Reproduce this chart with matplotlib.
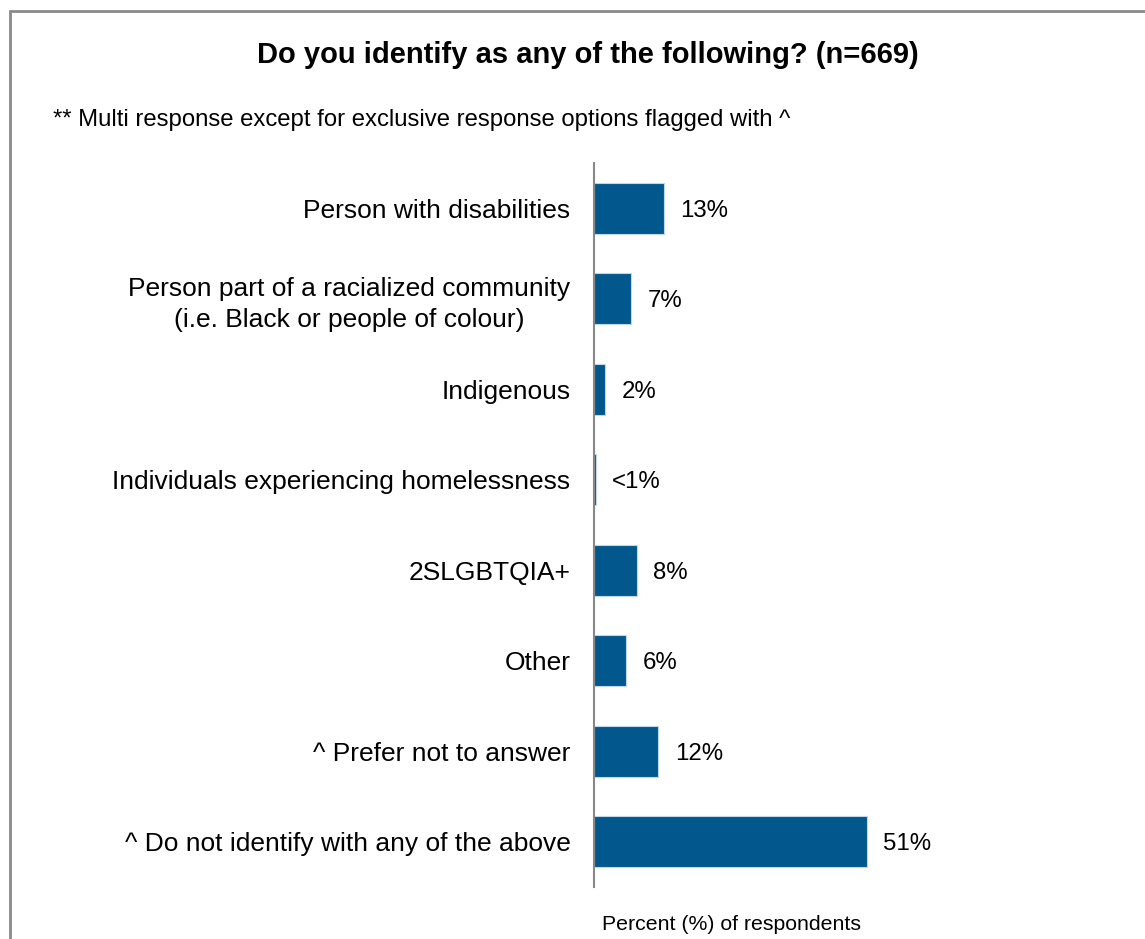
import matplotlib.pyplot as plt
from matplotlib.patches import Rectangle

categories = [
    "Person with disabilities",
    "Person part of a racialized community\n(i.e. Black or people of colour)",
    "Indigenous",
    "Individuals experiencing homelessness",
    "2SLGBTQIA+",
    "Other",
    "^ Prefer not to answer",
    "^ Do not identify with any of the above",
]
values = [13, 7, 2, 0.3, 8, 6, 12, 51]
value_labels = ["13%", "7%", "2%", "<1%", "8%", "6%", "12%", "51%"]

plt.rcParams['font.family'] = ['Liberation Sans', 'DejaVu Sans']

fig = plt.figure(figsize=(11.45, 9.39), dpi=100)
ax = fig.add_axes([594 / 1145, 1 - 887 / 939, 276 / 1145, 724 / 939])

pos = list(range(len(categories)))
ax.barh(pos, values, height=0.56, color='#02578C', edgecolor='#BFD7EA', linewidth=0.8)
ax.set_ylim(len(categories) - 0.5, -0.5)
ax.set_xlim(0, 51.6)

for p, v, lab in zip(pos, values, value_labels):
    ax.annotate(lab, (v, p), xytext=(12, 0), textcoords='offset points',
                va='center_baseline', ha='left', fontsize=17.3, annotation_clip=False)

ax.set_yticks(pos)
ax.set_yticklabels(categories, fontsize=19, multialignment='center', linespacing=1.35)
ax.tick_params(axis='y', length=0, pad=17)
ax.set_xticks([])
for s in ['top', 'right', 'bottom']:
    ax.spines[s].set_visible(False)
ax.spines['left'].set_color('#888888')
ax.spines['left'].set_linewidth(1.5)

fig.text(588 / 1145, 1 - 55 / 939, "Do you identify as any of the following? (n=669)",
         ha='center', va='center', fontsize=21, fontweight='bold')
fig.text(53 / 1145, 1 - 120 / 939,
         "** Multi response except for exclusive response options flagged with ^",
         ha='left', va='center', fontsize=17.2)
fig.text(732 / 1145, 1 - 924 / 939, "Percent (%) of respondents",
         ha='center', va='center', fontsize=15.3)

fig.patches.append(Rectangle((10 / 1145, -0.05), 1.1, 1 - 11 / 939 + 0.05,
                             transform=fig.transFigure, fill=False,
                             edgecolor='#8a8a8a', linewidth=2))

fig.savefig('out.png', dpi=100)
